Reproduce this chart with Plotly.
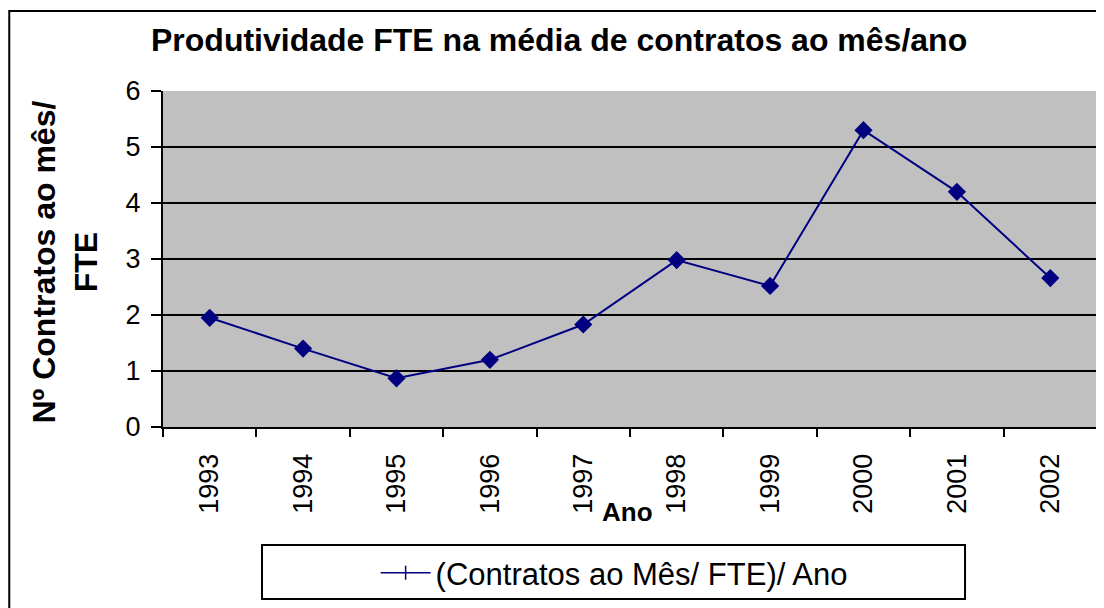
import plotly.graph_objects as go

years = ["1993", "1994", "1995", "1996", "1997", "1998", "1999", "2000", "2001", "2002"]
values = [1.95, 1.40, 0.87, 1.20, 1.83, 2.98, 2.52, 5.30, 4.20, 2.66]
series_name = "(Contratos ao Mês/ FTE)/ Ano"
title_text = "Produtividade FTE na média de contratos ao mês/ano"
y_title = "Nº Contratos ao mês/<br>FTE"
x_title = "Ano"

FONT = "Liberation Sans, Arial, sans-serif"
NAVY = "#000080"

fig = go.Figure()
fig.add_trace(go.Scatter(
    x=years, y=values, mode="lines+markers",
    line=dict(color=NAVY, width=2),
    marker=dict(symbol="diamond", size=14, color=NAVY),
    showlegend=False, cliponaxis=False,
))
# legend entry (line with vertical tick)
fig.add_trace(go.Scatter(
    x=[None], y=[None], mode="lines+markers", name=series_name,
    line=dict(color=NAVY, width=1.5),
    marker=dict(symbol="line-ns", size=10, color=NAVY, line=dict(color=NAVY, width=1.5)),
    showlegend=True,
))

fig.update_layout(
    width=1096, height=600,
    margin=dict(l=155, r=7, t=83, b=181),
    paper_bgcolor="white",
    plot_bgcolor="#C0C0C0",
    font=dict(family=FONT, color="black"),
    showlegend=True,
    legend=dict(
        x=0.483, y=-0.4345, xanchor="center", yanchor="middle",
        xref="paper", yref="paper",
        bgcolor="rgba(0,0,0,0)", borderwidth=0,
        font=dict(family=FONT, size=31, color="black"),
        itemwidth=50,
    ),
)

fig.update_xaxes(
    type="category", tickson="boundaries",
    ticks="outside", ticklen=8, tickwidth=2, tickcolor="black",
    showline=True, linecolor="black", linewidth=2,
    tickangle=-90, tickfont=dict(family=FONT, size=27, color="black"),
    ticklabelstandoff=14,
    showgrid=False, range=[-0.5, 9.5],
)
fig.update_yaxes(
    range=[0, 6], dtick=1, tick0=0,
    ticks="outside", ticklen=10, tickwidth=2, tickcolor="black",
    showline=True, linecolor="black", linewidth=2,
    tickfont=dict(family=FONT, size=27, color="black"),
    ticklabelstandoff=5,
    showgrid=True, gridcolor="black", gridwidth=2,
    zeroline=False,
)

shapes = [
    # outer chart border (extends past right/bottom of the frame)
    dict(type="rect", xref="paper", yref="paper",
         x0=-0.1646, x1=1.05, y0=-0.7, y1=1.238,
         line=dict(color="black", width=2), fillcolor="rgba(0,0,0,0)", layer="below"),
    # legend box
    dict(type="rect", xref="paper", yref="paper",
         x0=0.106, x1=0.8587, y0=-0.5119, y1=-0.3512,
         line=dict(color="black", width=2), fillcolor="rgba(0,0,0,0)"),
    # right plot border
    dict(type="line", xref="paper", yref="paper", x0=1, x1=1, y0=0, y1=1,
         line=dict(color="black", width=2)),
]
fig.update_layout(shapes=shapes)

annotations = [
    dict(text="<b>" + title_text + "</b>", xref="paper", yref="paper",
         x=0.424, y=1.152, xanchor="center", yanchor="middle", showarrow=False,
         font=dict(family=FONT, size=32, color="black")),
    dict(text="<b>" + y_title + "</b>", xref="paper", yref="paper",
         x=-0.1044, y=0.491, xanchor="center", yanchor="middle", showarrow=False,
         textangle=-90, font=dict(family=FONT, size=32, color="black")),
    dict(text="<b>" + x_title + "</b>", xref="paper", yref="paper",
         x=0.4968, y=-0.253, xanchor="center", yanchor="middle", showarrow=False,
         font=dict(family=FONT, size=26, color="black")),
]
fig.update_layout(annotations=annotations)

fig.write_html("out.html")
